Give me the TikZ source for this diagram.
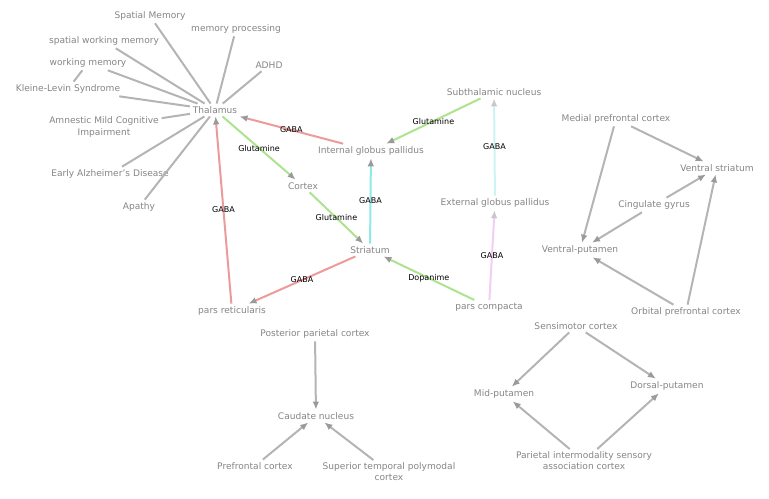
\documentclass[tikz,border=0pt]{standalone}
\usepackage{fontspec}
\setmainfont{DejaVu Sans}
\usetikzlibrary{arrows.meta}
\definecolor{nodegray}{HTML}{858585}
\definecolor{linegray}{HTML}{B4B4B4}
\definecolor{tipgray}{HTML}{9A9A9A}
\definecolor{paletip}{HTML}{C8C8C8}
\definecolor{gabared}{HTML}{EC9A9A}
\definecolor{glugreen}{HTML}{ADE38E}
\definecolor{gabacyan}{HTML}{8FE9E9}
\definecolor{paleaqua}{HTML}{CDF4F4}
\definecolor{palepink}{HTML}{F4CDF4}
\begin{document}
\begin{tikzpicture}[x=0.75pt,y=-0.75pt,
	brainnode/.style={font=\fontsize{6.8}{8.3}\selectfont,text=nodegray,align=center,inner sep=2pt},
	edgelabel/.style={font=\fontsize{6}{7}\selectfont,text=black,midway,inner sep=0pt},
	link/.style={line width=1.5pt,draw=linegray},
	arrowlink/.style={line width=1.5pt,draw=linegray,-{Latex[length=6pt,width=5pt,color=tipgray]}},
	palelink/.style={line width=1.5pt,-{Latex[length=6pt,width=5pt,color=paletip]}}
	]
	\useasboundingbox (0,0) rectangle (769,499);
	\path
	+(215,110) node[brainnode] (1) {Thalamus}
	+(150,16)  node[brainnode] (2) {Spatial Memory}
	+(236,29)  node[brainnode] (3) {memory processing}
	+(104,41)  node[brainnode] (4) {spatial working memory}
	+(269,65)  node[brainnode] (5) {ADHD}
	+(88,63)   node[brainnode] (6) {working memory}
	+(68,89)   node[brainnode] (7) {Kleine-Levin Syndrome}
	+(104,127) node[brainnode] (8) {Amnestic Mild Cognitive\\Impairment}
	+(110,174) node[brainnode] (9) {Early Alzheimer's Disease}
	+(139,207) node[brainnode] (10) {Apathy}
	+(371,151) node[brainnode] (11) {Internal globus pallidus}
	+(494,92)  node[brainnode] (12) {Subthalamic nucleus}
	+(495,203) node[brainnode] (13) {External globus pallidus}
	+(303,186) node[brainnode] (14) {Cortex}
	+(370,250) node[brainnode] (15) {Striatum}
	+(232,311) node[brainnode] (16) {pars reticularis}
	+(489,307) node[brainnode] (17) {pars compacta}
	+(616,119) node[brainnode] (18) {Medial prefrontal cortex}
	+(717,168) node[brainnode] (19) {Ventral striatum}
	+(654,205) node[brainnode] (20) {Cingulate gyrus}
	+(580,250) node[brainnode] (21) {Ventral-putamen}
	+(686,312) node[brainnode] (22) {Orbital prefrontal cortex}
	+(576,326) node[brainnode] (23) {Sensimotor cortex}
	+(504,394) node[brainnode] (24) {Mid-putamen}
	+(667,386) node[brainnode] (25) {Dorsal-putamen}
	+(584,461) node[brainnode] (26) {Parietal intermodality sensory\\association cortex}
	+(315,334) node[brainnode] (27) {Posterior parietal cortex}
	+(316,416) node[brainnode] (28) {Caudate nucleus}
	+(255,466) node[brainnode] (29) {Prefrontal cortex}
	+(389,472) node[brainnode] (30) {Superior temporal polymodal\\cortex}
	;
	\draw[link] (1)--(2);
	\draw[link] (1)--(3);
	\draw[link] (1)--(4);
	\draw[link] (1)--(5);
	\draw[link] (1)--(6);
	\draw[link] (1)--(7);
	\draw[link] (1)--(8);
	\draw[link] (1)--(9);
	\draw[link] (1)--(10);
	\draw[link] (6)--(7);
	\draw[arrowlink,draw=gabared] (11)-- node[edgelabel]{GABA} (1);
	\draw[arrowlink,draw=glugreen] (1)-- node[edgelabel]{Glutamine} (14);
	\draw[arrowlink,draw=glugreen] (14)-- node[edgelabel]{Glutamine} (15);
	\draw[arrowlink,draw=gabacyan] (15)-- node[edgelabel]{GABA} (11);
	\draw[arrowlink,draw=glugreen] (12)-- node[edgelabel]{Glutamine} (11);
	\draw[palelink,draw=paleaqua] (13)-- node[edgelabel]{GABA} (12);
	\draw[palelink,draw=palepink] (17)-- node[edgelabel]{GABA} (13);
	\draw[arrowlink,draw=gabared] (15)-- node[edgelabel]{GABA} (16);
	\draw[arrowlink,draw=glugreen] (17)-- node[edgelabel]{Dopanime} (15);
	\draw[arrowlink,draw=gabared] (16)-- node[edgelabel]{GABA} (1);
	\draw[arrowlink] (18)--(19);
	\draw[arrowlink] (18)--(21);
	\draw[arrowlink] (20)--(19);
	\draw[arrowlink] (20)--(21);
	\draw[arrowlink] (22)--(21);
	\draw[arrowlink] (22)--(19);
	\draw[arrowlink] (23)--(24);
	\draw[arrowlink] (23)--(25);
	\draw[arrowlink] (26)--(24);
	\draw[arrowlink] (26)--(25);
	\draw[arrowlink] (27)--(28);
	\draw[arrowlink] (29)--(28);
	\draw[arrowlink] (30)--(28);
	\end{tikzpicture}
\end{document}
